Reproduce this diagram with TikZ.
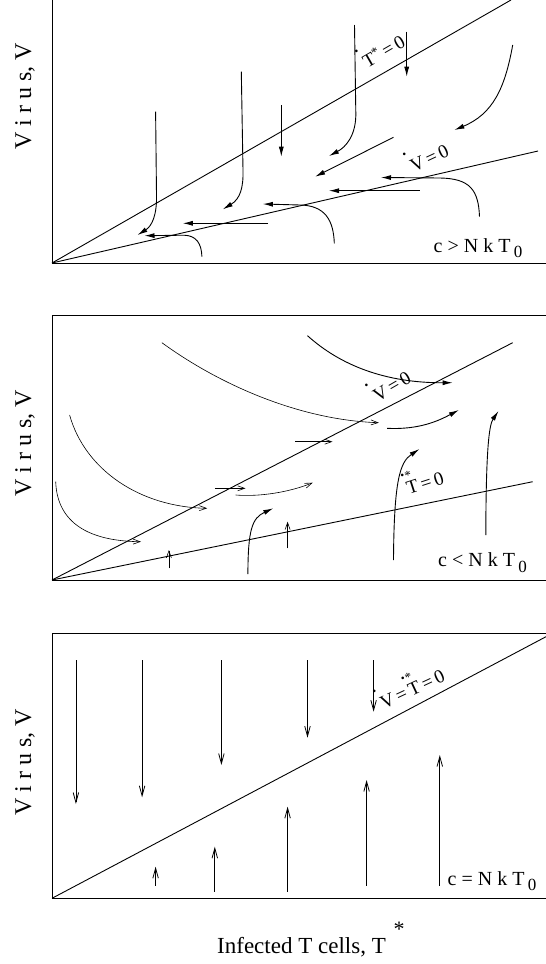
\documentclass[tikz,border=0pt]{standalone}
\usepackage{fontspec}
\setmainfont{Liberation Serif}
\usetikzlibrary{arrows.meta}
\newcommand\bdot{{\fontsize{11}{11}\selectfont •}}
\newcommand\dotabove[1]{\leavevmode\makebox[0pt][l]{\kern-0.15em\raisebox{0.88em}{\bdot}}#1}
\newcommand\dotstarabove[1]{\leavevmode\makebox[0pt][l]{\kern-0.12em\raisebox{0.88em}{\bdot\kern0.02em\raisebox{-0.12em}{\fontsize{13}{13}\selectfont*}}}#1}
\newcommand\subzero{\,\raisebox{-0.28em}{\fontsize{17}{17}\selectfont 0}}
\tikzset{
  axisline/.style={line width=0.9pt},
  nullc/.style={line width=0.9pt},
  flowA/.style={line width=0.9pt,-{Latex[length=10pt,width=5pt]}},
  flowB/.style={line width=0.6pt,-{Straight Barb[length=7pt,width=5pt]}},
  flowC/.style={line width=0.8pt,-{Straight Barb[length=10pt,width=5.5pt]}},
  nlab/.style={font=\fontsize{19}{22}\selectfont,inner sep=0pt,anchor=base},
  clab/.style={font=\fontsize{20}{24}\selectfont,inner sep=0pt,anchor=base},
  ylab/.style={font=\fontsize{24}{26}\selectfont,inner sep=0pt,rotate=90},
}
\begin{document}
\begin{tikzpicture}[x=1pt,y=-1pt]
\useasboundingbox (0,0) rectangle (546,964);
% ================= Panel 1 =================
\coordinate (o1) at (52,263);
\draw[axisline] (52,0) -- (o1) -- (546,263);
\draw[nullc] (o1) -- (511,0);
\draw[nullc] (o1) -- (538,151);
\node[nlab,rotate=30] (l1a) at (387,57) {\dotabove{T}\textsuperscript{*}\,=\,0};
\node[nlab,rotate=25] (l1b) at (432,164) {\dotabove{V}\,=\,0};
\node[clab] (l1c) at (478,252) {c > N k T\subzero};
\node[ylab] (y1) at (25,96) {V i r u s, V};
% flows
\draw[flowA] (155.6,111.7) -- (156.5,195) .. controls (157,215) and (152,226) .. (137.5,235);
\draw[flowA] (241.3,71.7) -- (243,170) .. controls (243.5,188) and (240,199) .. (222.8,209.3);
\draw[flowA] (281.3,105) -- (281.3,156.7);
\draw[flowA] (354.5,25) -- (355.8,112) .. controls (356.5,135) and (346,147) .. (329,156);
\draw[flowA] (406.7,31.7) -- (406.7,76.7);
\draw[flowA] (512.7,45) .. controls (505,88) and (493,114) .. (454.4,130);
\draw[flowA] (393.5,137.3) -- (315.1,176.7);
\draw[flowA] (479.5,216.7) .. controls (478.5,190) and (470,178.5) .. (440,178) -- (381,177.5);
\draw[flowA] (419.6,190.7) -- (329,190.7);
\draw[flowA] (334.3,243.3) .. controls (333.5,220) and (325,205.5) .. (300,205) -- (262.9,204);
\draw[flowA] (268.1,223.3) -- (182.8,223.3);
\draw[flowA] (201.9,256.7) .. controls (201.5,243) and (196,235.5) .. (184,235.2) -- (144.5,235.7);
% ================= Panel 2 =================
\coordinate (o2) at (52,580);
\draw[axisline] (546,315.7) -- (52,315.7) -- (o2) -- (546,580);
\draw[nullc] (o2) -- (512.7,342.7);
\draw[nullc] (o2) -- (532.7,481.7);
\node[nlab,rotate=30] (l2a) at (395,392) {\dotabove{V}\,=\,0};
\node[nlab,rotate=18] (l2b) at (427,489) {\dotstarabove{T}\,=\,0};
\node[clab] (l2c) at (482.5,566.7) {c < N k T\subzero};
\node[ylab] (y2) at (25,443) {V i r u s, V};
% flows
\draw[flowB] (55.7,481.7) .. controls (57,518) and (82,541) .. (141,541.7);
\draw[flowB] (69.6,415) .. controls (85,470) and (140,507) .. (207.2,508.3);
\draw[flowB] (214.8,488.3) -- (245.5,488.3);
\draw[flowB] (235.7,495) .. controls (260,497) and (290,492) .. (312.7,482.7);
\draw[flowB] (161.9,342.7) .. controls (220,385) and (300,420) .. (378.8,422.7);
\draw[flowB] (295.3,441.7) -- (332.5,441.7);
\draw[flowA] (307.5,335.7) .. controls (340,365) and (385,383) .. (452.6,382.7);
\draw[flowA] (387.2,428.3) .. controls (420,430) and (440,420) .. (458.9,410);
\draw[flowA] (393.5,560) .. controls (394,480) and (400,462) .. (419.5,449);
\draw[flowA] (485.8,535) .. controls (486,450) and (489,425) .. (498.5,411);
\draw[flowA] (247.9,574) .. controls (248,530) and (252,518) .. (273.3,508.3);
\draw[flowB] (287.6,548.3) -- (287.6,521.7);
\draw[flowB] (168.9,568.3) -- (168.9,550);
% ================= Panel 3 =================
\coordinate (o3) at (52,898.3);
\draw[axisline] (546,633.3) -- (52,633.3) -- (o3) -- (546,898.3);
\draw[nullc] (o3) -- (546,636.7);
\node[nlab,rotate=25] (l3a) at (415,695) {\dotabove{V}\,=\,\dotstarabove{T}\,=\,0};
\node[clab] (l3c) at (492,885) {c = N k T\subzero};
\node[ylab] (y3) at (25,762) {V i r u s, V};
% flows
\draw[flowC] (75.9,660) -- (75.9,804);
\draw[flowC] (142.1,660) -- (142.1,797.3);
\draw[flowC] (221.4,660) -- (221.4,765);
\draw[flowC] (307.5,660) -- (307.5,737.7);
\draw[flowC] (373.6,660) -- (373.6,711.7);
\draw[flowC] (155.6,885.7) -- (155.6,866.7);
\draw[flowC] (214.8,891.7) -- (214.8,846.7);
\draw[flowC] (287.6,891.7) -- (287.6,806.7);
\draw[flowC] (366.6,885.7) -- (366.6,780);
\draw[flowC] (439.8,885.7) -- (439.8,755);
% x label
\node[font=\fontsize{23}{26}\selectfont,inner sep=0pt,anchor=base] (xl) at (301.5,953) {Infected T cells, T};
\node[font=\fontsize{22}{22}\selectfont,inner sep=0pt] (xs) at (399,929) {*};
\end{tikzpicture}
\end{document}
